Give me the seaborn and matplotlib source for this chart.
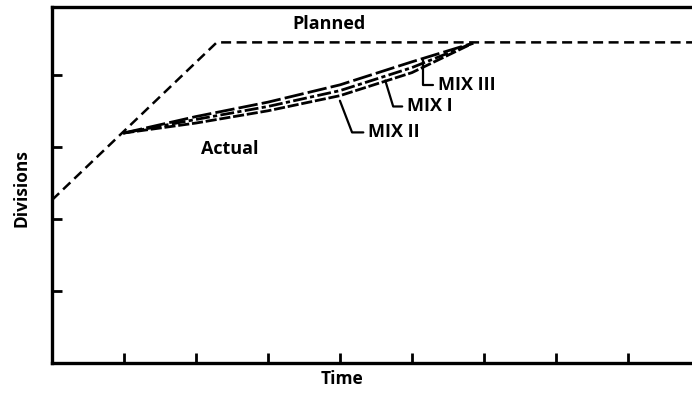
import matplotlib
matplotlib.use("Agg")
import matplotlib.pyplot as plt
import seaborn as sns
import pandas as pd

# ---------------------------------------------------------
# Data (arbitrary units)
# ---------------------------------------------------------
planned_time = [0.0, 2.29, 9.0]
planned_div = [2.26, 4.45, 4.45]

mix_time = [0.99, 2.0, 3.0, 4.0, 5.0, 5.85]
mix_iii = [3.19, 3.42, 3.62, 3.86, 4.18, 4.44]
mix_i = [3.19, 3.38, 3.56, 3.78, 4.10, 4.44]
mix_ii = [3.19, 3.33, 3.50, 3.71, 4.03, 4.44]

x_ticks = [1, 2, 3, 4, 5, 6, 7, 8]
y_ticks = [1, 2, 3, 4]

sns.set_theme(style="ticks")
plt.rcParams["font.family"] = ["Open Sans", "DejaVu Sans"]
plt.rcParams["font.weight"] = "bold"
plt.rcParams["text.color"] = "black"
plt.rcParams["axes.labelcolor"] = "black"

fig = plt.figure(figsize=(6.92, 3.94), dpi=100)
ax = fig.add_axes([0.075, 0.079, 0.925, 0.903])

# ---------------------------------------------------------
# Lines
# ---------------------------------------------------------
sns.lineplot(x=planned_time, y=planned_div, ax=ax, color="black",
             linewidth=1.8, linestyle=(0, (4, 2.2)))

mix = pd.DataFrame({"time": mix_time, "III": mix_iii, "I": mix_i, "II": mix_ii})
styles = {"III": (0, (7, 1.5)), "I": (0, (5, 1.2, 1.5, 1.2)), "II": (0, (4, 1))}
for name, ls in styles.items():
    sns.lineplot(data=mix, x="time", y=name, ax=ax, color="black",
                 linewidth=2.0, linestyle=ls)

# ---------------------------------------------------------
# Labels
# ---------------------------------------------------------
fs = 13
ax.text(3.85, 4.7, "Planned", fontsize=fs, fontweight="bold", ha="center", va="center")
ax.text(2.47, 2.97, "Actual", fontsize=fs, fontweight="bold", ha="center", va="center")

lead = dict(arrowstyle="-", color="black", lw=1.6, shrinkA=1, shrinkB=0)
ax.annotate("MIX III", xy=(5.15, 4.21), xytext=(5.36, 3.86), fontsize=fs,
            fontweight="bold", va="center", ha="left",
            arrowprops=dict(lead, connectionstyle="angle,angleA=0,angleB=90,rad=0"))
ax.annotate("MIX I", xy=(4.63, 3.92), xytext=(4.93, 3.56), fontsize=fs,
            fontweight="bold", va="center", ha="left",
            arrowprops=dict(lead, connectionstyle="angle,angleA=0,angleB=107,rad=0"))
ax.annotate("MIX II", xy=(4.0, 3.64), xytext=(4.39, 3.2), fontsize=fs,
            fontweight="bold", va="center", ha="left",
            arrowprops=dict(lead, connectionstyle="angle,angleA=0,angleB=111,rad=0"))

# ---------------------------------------------------------
# Axes styling
# ---------------------------------------------------------
ax.set_xlim(0, 8.89)
ax.set_ylim(0, 4.94)
ax.set_xticks(x_ticks)
ax.set_yticks(y_ticks)
ax.set_xticklabels([])
ax.set_yticklabels([])
ax.tick_params(direction="in", length=7, width=2, color="black")
for side in ["left", "bottom", "top"]:
    ax.spines[side].set_linewidth(2.4)
    ax.spines[side].set_color("black")
ax.spines["right"].set_visible(False)
ax.set_xlabel("Time", fontsize=fs - 0.5, fontweight="bold")
ax.set_ylabel("Divisions", fontsize=fs - 0.5, fontweight="bold")
ax.xaxis.set_label_coords(0.453, -0.02, transform=ax.transAxes)
ax.xaxis.label.set_va("top")
ax.yaxis.set_label_coords(-0.034, 0.49, transform=ax.transAxes)

fig.savefig("out.png", dpi=100)
